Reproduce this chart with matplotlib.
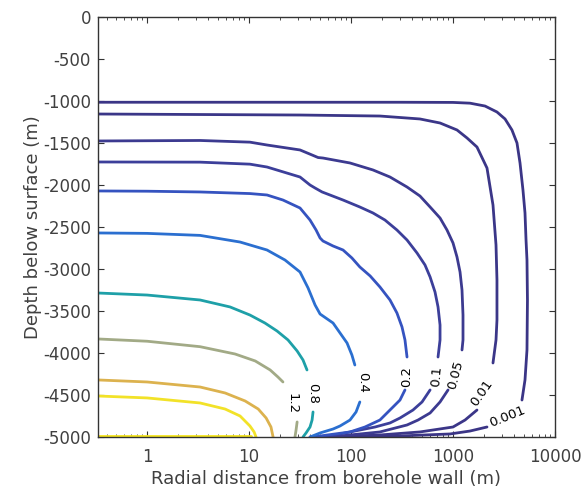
import numpy as np
import matplotlib
matplotlib.use("Agg")
import matplotlib.pyplot as plt

plt.rcParams["axes.unicode_minus"] = False

nan = np.nan

# contour levels (labels), far field first
levels = ["0.001", "0.01", "0.05", "0.1", "0.2", "0.4", "0.8", "1.2", "1.6", "2.0", "2.4"]

# points: radial distance (m) and depth (m); nan = gap for the inline label
r_0001 = [0.331, 302, 1000, 1468, 2060, 2698, 3236, 3784, 4240, 4540, 4853, 5080, 5200, 5313, 5370, 5313, 5080, 4745,
          nan, 2154, 1468, 935, 302, 109, 62]
z_0001 = [-1015, -1015, -1017, -1026, -1060, -1131, -1214, -1345, -1500, -1738, -2060, -2333, -2655, -2893, -3369, -3964, -4321, -4560,
          nan, -4881, -4929, -4964, -4988, -4994, -5000]

r_001 = [0.331, 31.6, 192, 474, 746, 1094, 1371, 1718, 2154, 2466, 2640, 2698, 2698, 2640, 2466,
         nan, 1718, 1312, 1000, 474, 192, 62]
z_001 = [-1155, -1167, -1179, -1214, -1262, -1345, -1440, -1548, -1798, -2238, -2714, -3131, -3607, -3845, -4119,
         nan, -4679, -4798, -4881, -4940, -4976, -5000]

r_005 = [0.331, 3.31, 10.2, 15.0, 31.6, 41.5, 47.5, 53.1, 97.7, 164, 241, 354, 474, 596, 746, 873, 1000, 1094, 1172, 1225, 1253, 1253, 1225,
         nan, 894, 746, 596, 454, 354, 192, 78.0, 49.7]
z_005 = [-1476, -1470, -1490, -1524, -1583, -1643, -1673, -1679, -1738, -1821, -1905, -2024, -2131, -2262, -2393, -2536, -2690, -2857, -3036, -3250, -3548, -3845, -3964,
         nan, -4440, -4583, -4714, -4798, -4857, -4940, -4988, -5000]

r_01 = [0.331, 3.31, 10.2, 15.0, 31.6, 39.6, 44.4, 52.0, 83.5, 122, 164, 215, 282, 354, 444, 531, 596, 666, 713, 746, 746, 713,
        nan, 596, 497, 405, 302, 241, 172, 122, 62.2, 44.4]
z_01 = [-1726, -1728, -1752, -1786, -1905, -2000, -2036, -2083, -2179, -2262, -2333, -2417, -2536, -2655, -2810, -2952, -3095, -3274, -3452, -3667, -3845, -4048,
        nan, -4440, -4583, -4679, -4774, -4833, -4881, -4917, -4988, -5000]

r_02 = [0.331, 1.0, 3.31, 10.2, 15.0, 21.5, 31.6, 39.6, 45.4, 49.7, 53.1, 66.6, 83.5, 102, 122, 154, 192, 241, 282, 316, 338, 354,
        nan, 338, 302, 258, 192, 137, 97.7, 49.7, 39.6]
z_02 = [-2071, -2074, -2083, -2102, -2119, -2179, -2274, -2417, -2536, -2631, -2667, -2726, -2774, -2869, -2976, -3083, -3214, -3369, -3524, -3690, -3845, -4048,
        nan, -4440, -4560, -4643, -4798, -4881, -4940, -4988, -5000]

r_04 = [0.331, 1.0, 3.31, 8.16, 15.0, 22.5, 31.6, 37.9, 44.4, 49.7, 66.6, 78.0, 91.4, 102, 109,
        nan, 122, 112, 97.7, 78.0, 66.6, 49.7, 39.6]
z_04 = [-2571, -2576, -2600, -2679, -2774, -2893, -3036, -3226, -3429, -3536, -3643, -3762, -3881, -4024, -4143,
        nan, -4583, -4702, -4798, -4869, -4905, -4952, -5000]

r_08 = [0.331, 1.0, 3.31, 6.51, 10.2, 14.3, 18.8, 24.1, 29.6, 33.8, 37.0, nan, 42.4, 41.5, 39.6, 36.2, 33.8]
z_08 = [-3286, -3310, -3369, -3452, -3548, -3643, -3738, -3845, -3976, -4083, -4202, nan, -4702, -4798, -4881, -4952, -5000]

r_12 = [0.331, 1.0, 3.31, 7.29, 11.5, 16.1, 19.2, 21.5, nan, 29.6, 28.9, 28.2]
z_12 = [-3833, -3860, -3925, -4012, -4095, -4202, -4286, -4345, nan, -4821, -4917, -5000]

r_16 = [0.331, 1.0, 3.31, 5.82, 9.14, 12.3, 14.7, 16.4, 17.2]
z_16 = [-4321, -4345, -4405, -4476, -4571, -4667, -4774, -4881, -5000]

r_20 = [0.331, 1.0, 3.31, 5.82, 8.16, 10.2, 11.2, 11.7]
z_20 = [-4512, -4535, -4595, -4667, -4750, -4869, -4940, -5000]

r_24 = [0.331, 10.5]
z_24 = [-4985, -4985]

radii = [r_0001, r_001, r_005, r_01, r_02, r_04, r_08, r_12, r_16, r_20, r_24]
depths = [z_0001, z_001, z_005, z_01, z_02, z_04, z_08, z_12, z_16, z_20, z_24]

colors = ["#3b3586", "#3b3688", "#3c3a90", "#3c3f9a", "#3553c0", "#2b6fd0",
          "#1ea0a8", "#a2aa86", "#dcb24e", "#f2e228", "#f5e51d"]

# inline label placement (radius, depth, rotation)
lab_r = [3390, 1930, 1070, 697, 354, 129, 42.4, 26.5]
lab_z = [-4762, -4476, -4262, -4274, -4274, -4345, -4476, -4600]
lab_rot = [22, 55, 75, 85, 90, -90, -90, -90]

fig = plt.figure(figsize=(5.85, 4.94), dpi=100)
ax = fig.add_axes([0.1675, 0.1154, 0.7812, 0.8502])

for r, z, c in zip(radii, depths, colors):
    ax.plot(r, z, color=c, lw=2.0, solid_joinstyle="round", solid_capstyle="round")

for i in range(len(lab_r)):
    ax.text(lab_r[i], lab_z[i], levels[i], rotation=lab_rot[i], fontsize=9.5,
            color="black", ha="center", va="center", rotation_mode="anchor")

ax.set_xscale("log")
ax.set_xlim(0.33, 10000)
ax.set_ylim(-5000, 0)
ax.set_yticks(np.arange(-5000, 1, 500))
ax.set_xticks([1, 10, 100, 1000, 10000])
ax.set_xticklabels(["1", "10", "100", "1000", "10000"])

ax.tick_params(which="both", direction="in", top=True, right=True, colors="#333333",
               labelcolor="#404040", labelsize=12)
ax.tick_params(which="major", length=4)
ax.tick_params(which="minor", length=2.5)
ax.tick_params(axis="x", pad=8)
ax.tick_params(axis="y", pad=5)
for s in ax.spines.values():
    s.set_color("#333333")
    s.set_linewidth(1.0)

ax.set_xlabel("Radial distance from borehole wall (m)", fontsize=13, color="#404040", labelpad=3)
ax.set_ylabel("Depth below surface (m)", fontsize=13, color="#404040", labelpad=1)

fig.savefig("out.png", dpi=100)
